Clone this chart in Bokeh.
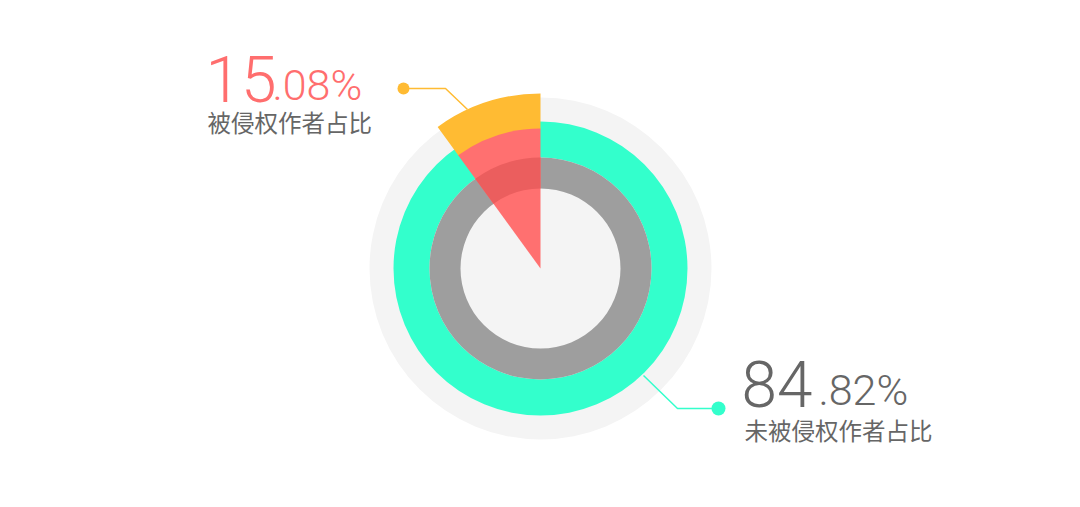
from bokeh.plotting import figure
from bokeh.models import Range1d
from bokeh.core.properties import value
from bokeh.embed import file_html
from bokeh.resources import INLINE
import math

# ---- data ----
labels = ["被侵权作者占比", "未被侵权作者占比"]
pct_int = ["15", "84"]
pct_dec = [".08%", ".82%"]
wedge_deg = [36]          # drawn angular extent of the highlighted wedge

# ---- layout (page pixel coordinates: x = X, y = 507 - Y) ----
W, H = 1064, 491
p = figure(width=W, height=H, output_backend="svg", toolbar_location=None,
           x_range=Range1d(0, W), y_range=Range1d(507 - H, 507),
           min_border=0, border_fill_color="white", background_fill_color="white")
p.axis.visible = False
p.grid.visible = False
p.outline_line_color = None

cx, cy = 540, 507 - 268
start = math.pi / 2
end = start + math.radians(wedge_deg[0])

p.circle(x=[cx], y=[cy], radius=171, fill_color="#f4f4f4", line_color=None)
p.annulus(x=[cx], y=[cy], inner_radius=111, outer_radius=147,
          fill_color="#33ffcc", line_color=None)
p.annulus(x=[cx], y=[cy], inner_radius=80, outer_radius=111,
          fill_color="#9e9e9e", line_color=None)
p.annular_wedge(x=[cx], y=[cy], inner_radius=139, outer_radius=175,
                start_angle=start, end_angle=end, fill_color="#ffbb33", line_color=None)
p.wedge(x=[cx], y=[cy], radius=140, start_angle=start, end_angle=end,
        fill_color="#ff7070", line_color=None)
p.annular_wedge(x=[cx], y=[cy], inner_radius=80, outer_radius=111,
                start_angle=start, end_angle=end, fill_color="#eb5e5e", line_color=None)

p.line(x=[403, 445, 467], y=[507 - 88, 507 - 88, 507 - 109], line_color="#ffbb33", line_width=1.5)
p.scatter(x=[403], y=[507 - 88], size=12, fill_color="#ffbb33", line_color=None)
p.line(x=[643, 677, 718], y=[507 - 375, 507 - 408, 507 - 408], line_color="#33ffcc", line_width=1.5)
p.scatter(x=[718], y=[507 - 408], size=14, fill_color="#33ffcc", line_color=None)

num_font = value("Roboto Light")
cjk_font = value("Noto Sans CJK SC")

def num_text(x, y_base, txt, size, color):
    p.text(x=[x], y=[507 - y_base], text=[txt], text_font=num_font,
           text_font_size=f"{size}px", text_color=color,
           text_baseline="bottom", text_align="left")

# top-left label
num_text(205, 101, pct_int[0], 64, "#ff6e6e")
num_text(272, 109, pct_dec[0], 43, "#ff6e6e")
p.text(x=[207], y=[507 - 121], text=[labels[0]], text_font=cjk_font, text_font_size="23.5px",
       text_color="#666666", text_baseline="middle", text_align="left")

# bottom-right label
num_text(741, 406, pct_int[1], 64, "#666666")
num_text(818, 414, pct_dec[1], 43, "#666666")
p.text(x=[744], y=[507 - 429], text=[labels[1]], text_font=cjk_font, text_font_size="23.5px",
       text_color="#666666", text_baseline="middle", text_align="left")

open("out.html", "w").write(file_html(p, INLINE))
